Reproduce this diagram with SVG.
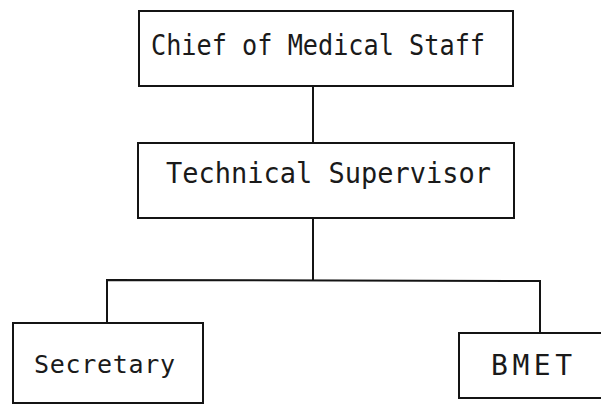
<svg xmlns="http://www.w3.org/2000/svg" width="601" height="410" viewBox="0 0 601 410">
<style>
.box{fill:#fff;stroke:#141414;stroke-width:2}
.lbl{font-family:"DejaVu Sans Mono","Liberation Mono",monospace;font-size:25px;fill:#1a1a1a}
.big{font-size:28px}
.conn{fill:none;stroke:#141414;stroke-width:2}
</style>
<rect width="601" height="410" fill="#fff"/>
<g id="connectors">
<line class="conn" x1="313" y1="86" x2="313" y2="143"/>
<line class="conn" x1="313" y1="218" x2="313" y2="281"/>
<polyline class="conn" points="107,323 107,280 540,281 540,333"/>
</g>
<g id="chief">
<rect class="box" x="139" y="11" width="374" height="75"/>
<text class="lbl big" x="151" y="55" textLength="334" lengthAdjust="spacingAndGlyphs">Chief of Medical Staff</text>
</g>
<g id="supervisor">
<rect class="box" x="138" y="143" width="376" height="75"/>
<text class="lbl big" x="166" y="183" textLength="325" lengthAdjust="spacingAndGlyphs">Technical Supervisor</text>
</g>
<g id="secretary">
<rect class="box" x="13" y="323" width="190" height="80"/>
<text class="lbl" x="34" y="373" textLength="141" lengthAdjust="spacing">Secretary</text>
</g>
<g id="bmet">
<rect class="box" x="459" y="333" width="160" height="65"/>
<text class="lbl big" x="491" y="375" textLength="81" lengthAdjust="spacing">BMET</text>
</g>
</svg>
